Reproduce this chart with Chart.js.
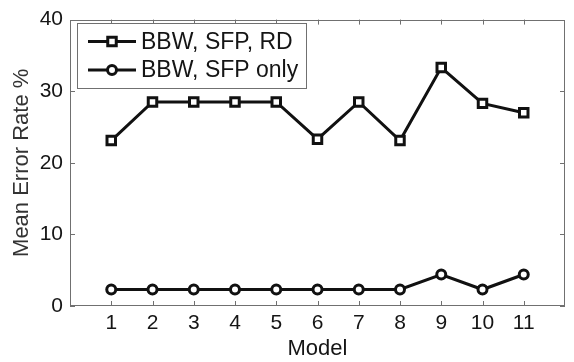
<!DOCTYPE html>
<html>
<head>
<meta charset="utf-8">
<script src="https://cdn.jsdelivr.net/npm/chart.js@4/dist/chart.umd.min.js"></script>
<style>
html,body{margin:0;padding:0;background:#fff;}
#wrap{width:574px;height:362px;}
</style>
</head>
<body>
<div id="wrap"><canvas id="c" width="574" height="362"></canvas></div>
<script>
const categories = ['1','2','3','4','5','6','7','8','9','10','11'];
const seriesNames = ['BBW, SFP, RD', 'BBW, SFP only'];
const bbwSfpRd = [23.1, 28.5, 28.5, 28.5, 28.5, 23.3, 28.5, 23.1, 33.3, 28.3, 27.0];
const bbwSfpOnly = [2.3, 2.3, 2.3, 2.3, 2.3, 2.3, 2.3, 2.3, 4.4, 2.3, 4.4];
const yTicks = [0, 10, 20, 30, 40];

const FONT = '"Liberation Sans", Arial, Helvetica, sans-serif';
const AXIS_COLOR = '#707070';
const TEXT_COLOR = '#151515';

function toPoints(vals){ return vals.map((v,i)=>({x:i+1, y:v})); }

const frameTicks = {
  id:'frameTicks',
  beforeDatasetsDraw(chart){
    const {ctx, chartArea:a, scales:{x,y}} = chart;
    ctx.save();
    ctx.strokeStyle = AXIS_COLOR;
    ctx.lineWidth = 1;
    ctx.strokeRect(Math.round(a.left)+0.5, Math.round(a.top)+0.5, Math.round(a.right-a.left)-1, Math.round(a.bottom-a.top)-1);
    const L = 5;
    ctx.beginPath();
    categories.forEach((c,i)=>{
      const px = Math.round(x.getPixelForValue(i+1))+0.5;
      ctx.moveTo(px, a.bottom); ctx.lineTo(px, a.bottom-L);
      ctx.moveTo(px, a.top); ctx.lineTo(px, a.top+L);
    });
    yTicks.forEach(v=>{
      const py = Math.round(y.getPixelForValue(v))+0.5;
      ctx.moveTo(a.left, py); ctx.lineTo(a.left+L, py);
      ctx.moveTo(a.right, py); ctx.lineTo(a.right-L, py);
    });
    ctx.stroke();
    ctx.restore();
  }
};

const boxLegend = {
  id:'boxLegend',
  afterDatasetsDraw(chart){
    const {ctx} = chart;
    const bx = 77.5, by = 23.5, bw = 229, bh = 65;
    ctx.save();
    ctx.fillStyle = '#fff';
    ctx.fillRect(bx, by, bw, bh);
    ctx.strokeStyle = AXIS_COLOR;
    ctx.lineWidth = 1;
    ctx.strokeRect(bx, by, bw, bh);
    const rows = [41.5, 70];
    chart.data.datasets.forEach((ds, i)=>{
      const yy = rows[i];
      ctx.strokeStyle = ds.borderColor;
      ctx.lineWidth = ds.borderWidth;
      ctx.beginPath(); ctx.moveTo(88, yy); ctx.lineTo(136, yy); ctx.stroke();
      ctx.fillStyle = ds.pointBackgroundColor;
      ctx.strokeStyle = ds.pointBorderColor;
      ctx.lineWidth = ds.pointBorderWidth;
      Chart.helpers.drawPoint(ctx, {pointStyle: ds.pointStyle, rotation:0, radius: ds.pointRadius, borderWidth: ds.pointBorderWidth}, 112, yy);
      ctx.fillStyle = TEXT_COLOR;
      ctx.font = '23px ' + FONT;
      ctx.textBaseline = 'middle';
      ctx.textAlign = 'left';
      ctx.fillText(ds.label, 141, yy+1);
    });
    ctx.restore();
  }
};

new Chart(document.getElementById('c'), {
  type:'line',
  data:{
    datasets:[
      {label: seriesNames[0], data: toPoints(bbwSfpRd), borderColor:'#111', borderWidth:3,
       pointStyle:'rect', pointRadius:6, pointBorderWidth:3, pointBackgroundColor:'#fff', pointBorderColor:'#111', fill:false, tension:0},
      {label: seriesNames[1], data: toPoints(bbwSfpOnly), borderColor:'#111', borderWidth:3,
       pointStyle:'circle', pointRadius:4.5, pointBorderWidth:3, pointBackgroundColor:'#fff', pointBorderColor:'#111', fill:false, tension:0}
    ]
  },
  options:{
    responsive:false, animation:false, devicePixelRatio:1,
    layout:{padding:{top:15, right:1, left:0, bottom:0}},
    plugins:{legend:{display:false}, tooltip:{enabled:false}},
    scales:{
      x:{type:'linear', min:0, max:12,
        afterBuildTicks(s){ s.ticks = categories.map((c,i)=>({value:i+1})); },
        afterFit(s){ s.height = 56; },
        grid:{display:false, drawTicks:false}, border:{display:false},
        ticks:{padding:5, color:TEXT_COLOR, font:{family:FONT, size:21}, maxRotation:0, autoSkip:false,
          callback:(v)=>categories[v-1] ?? ''},
        title:{display:true, text:'Model', color:TEXT_COLOR, font:{family:FONT, size:22}, padding:{top:0,bottom:0}}
      },
      y:{type:'linear', min:0, max:40,
        afterBuildTicks(s){ s.ticks = yTicks.map(v=>({value:v})); },
        afterFit(s){ s.width = 70; },
        grid:{display:false, drawTicks:false}, border:{display:false},
        ticks:{padding:7, color:TEXT_COLOR, font:{family:FONT, size:21}},
        title:{display:true, text:'Mean Error Rate %', color:'#333', font:{family:FONT, size:22}, padding:{top:9,bottom:0}}
      }
    }
  },
  plugins:[frameTicks, boxLegend]
});
</script>
</body>
</html>
